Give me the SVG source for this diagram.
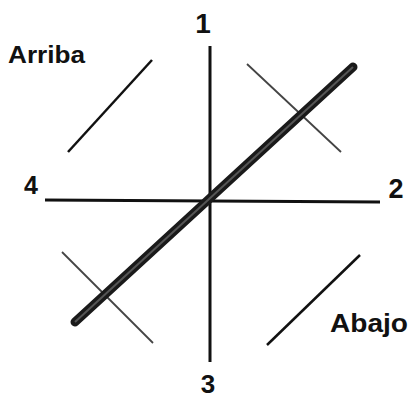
<svg xmlns="http://www.w3.org/2000/svg" width="412" height="401" viewBox="0 0 412 401">
<style>
.lbl{font-family:"Liberation Sans",Arial,sans-serif;font-weight:bold;fill:#111}
.ax{stroke:#111;stroke-width:3;fill:none}
.dk{stroke:#111;stroke-width:2.5;fill:none}
.lt{stroke:#444;stroke-width:1.8;fill:none}
</style>
<rect width="412" height="401" fill="#fff"/>
<g id="connectors">
<line class="ax" x1="210" y1="46" x2="210" y2="362"/>
<line class="ax" x1="45" y1="200" x2="380" y2="202"/>
<line class="dk" x1="68" y1="152" x2="152" y2="60"/>
<line class="lt" x1="247" y1="64" x2="341" y2="152"/>
<line class="lt" x1="62" y1="252" x2="153" y2="343"/>
<line class="dk" x1="267" y1="345" x2="360" y2="255"/>
<line x1="353" y1="67" x2="75" y2="322" stroke="#1a1a1a" stroke-width="9" stroke-linecap="round"/>
<line x1="353" y1="67" x2="75" y2="322" stroke="#555" stroke-width="2"/>
</g>
<g id="n1"><text class="lbl" x="203" y="33" font-size="28" text-anchor="middle">1</text></g>
<g id="n2"><text class="lbl" x="396" y="198" font-size="27" text-anchor="middle">2</text></g>
<g id="n3"><text class="lbl" x="208" y="393" font-size="26" text-anchor="middle">3</text></g>
<g id="n4"><text class="lbl" x="31" y="194" font-size="25" text-anchor="middle">4</text></g>
<g id="arriba"><text class="lbl" x="8" y="63" font-size="23" textLength="77" lengthAdjust="spacingAndGlyphs">Arriba</text></g>
<g id="abajo"><text class="lbl" x="330" y="332" font-size="26" textLength="78" lengthAdjust="spacingAndGlyphs">Abajo</text></g>
</svg>
